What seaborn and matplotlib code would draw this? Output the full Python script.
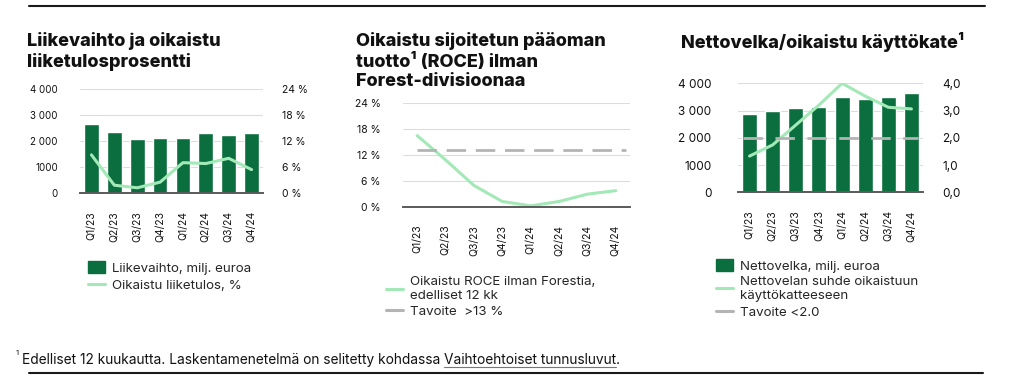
import matplotlib
matplotlib.use("Agg")
import matplotlib.pyplot as plt
import seaborn as sns
import numpy as np
from matplotlib.patches import Patch
from matplotlib.lines import Line2D

quarters = ["Q1/23", "Q2/23", "Q3/23", "Q4/23", "Q1/24", "Q2/24", "Q3/24", "Q4/24"]

# chart 1
liikevaihto = [2660, 2340, 2070, 2130, 2130, 2290, 2240, 2290]
liiketulos_pct = [8.8, 1.8, 1.2, 2.5, 7.0, 6.8, 8.0, 5.4]

# chart 2
roce_pct = [16.4, 10.8, 4.9, 1.2, 0.2, 1.2, 2.9, 3.7]
roce_target = 13.0

# chart 3
nettovelka = [2860, 2990, 3080, 3130, 3490, 3440, 3490, 3650]
velka_suhde = [1.33, 1.74, 2.47, 3.20, 4.00, 3.53, 3.12, 3.06]
velka_target = 2.0

DARK = "#0b6e3f"
LIGHT = "#a3e9b7"
GRAY = "#b4b4b4"
TEXT = "#111111"

sns.set_style("white")
plt.rcParams["font.family"] = ["Inter", "DejaVu Sans"]

W, H = 1016, 382
fig = plt.figure(figsize=(W / 100, H / 100), dpi=100)


def axes_px(left, top, right, bottom):
    return fig.add_axes([left / W, 1 - bottom / H, (right - left) / W, (bottom - top) / H])


def style_axes(ax, ymax, yticks, ylabels, pad, size):
    ax.set_ylim(0, ymax)
    ax.set_xlim(-0.5, len(quarters) - 0.5)
    ax.set_yticks(yticks)
    ax.set_yticklabels(ylabels)
    ax.set_xticks(np.arange(len(quarters)))
    ax.set_xticklabels(quarters, rotation=90)
    for s in ["top", "left", "right"]:
        ax.spines[s].set_visible(False)
    ax.spines["bottom"].set_color("#5a5a5a")
    ax.spines["bottom"].set_linewidth(1.4)
    ax.spines["bottom"].set_zorder(5)
    ax.grid(axis="y", color="#dcdcdc", linewidth=0.8)
    ax.set_axisbelow(True)
    ax.tick_params(axis="y", length=0, pad=pad, labelsize=size, labelcolor=TEXT)
    ax.tick_params(axis="x", length=0, pad=13, labelsize=7.5, labelcolor=TEXT)
    ax.set_xlabel("")
    ax.set_ylabel("")


def title(x, y, s):
    fig.text(x / W, 1 - y / H, s, fontsize=13, fontweight="heavy", color=TEXT,
             va="top", ha="left", linespacing=1.18)


LEG = dict(loc="upper left", frameon=False, fontsize=9.6, handlelength=1.3,
           handletextpad=0.5, labelspacing=0.28, borderpad=0, borderaxespad=0)

# ---- chart 1
ax1 = axes_px(80, 89, 263, 193)
sns.barplot(x=np.arange(len(quarters)), y=liikevaihto, color=DARK, saturation=1,
            width=0.65, ax=ax1)
style_axes(ax1, 4000, [0, 1000, 2000, 3000, 4000],
           ["0", "1000", "2 000", "3 000", "4 000"], 16, 7)
ax1b = ax1.twinx()
sns.lineplot(x=np.arange(len(quarters)), y=liiketulos_pct, color=LIGHT, linewidth=2.2, ax=ax1b)
ax1b.set_ylim(0, 24)
ax1b.set_yticks([0, 6, 12, 18, 24])
ax1b.set_yticklabels(["0 %", "6 %", "12 %", "18 %", "24 %"])
ax1b.tick_params(axis="y", length=0, pad=14, labelsize=7.5, labelcolor=TEXT)
for s in ax1b.spines.values():
    s.set_visible(False)
ax1b.set_ylabel("")
title(27, 32, "Liikevaihto ja oikaistu\nliiketulosprosentti")
fig.legend(handles=[Patch(color=DARK, label="Liikevaihto, milj. euroa"),
                    Line2D([], [], color=LIGHT, lw=2.2, label="Oikaistu liiketulos, %")],
           bbox_to_anchor=(88 / W, 1 - 261 / H), handleheight=1.0, **LEG)

# ---- chart 2
ax2 = axes_px(403, 102.7, 630, 206.7)
sns.lineplot(x=np.arange(len(quarters)), y=roce_pct, color=LIGHT, linewidth=2.2, ax=ax2)
ax2.hlines(roce_target, 0, 7.35, color=GRAY, linewidth=2.0, linestyles=(0, (7, 3.5)))
style_axes(ax2, 24, [0, 6, 12, 18, 24], ["0 %", "6 %", "12 %", "18 %", "24 %"], 16, 7.5)
title(356, 32, "Oikaistu sijoitetun pääoman\ntuotto¹ (ROCE) ilman\nForest-divisioonaa")
fig.legend(handles=[Line2D([], [], color=LIGHT, lw=2.2,
                           label="Oikaistu ROCE ilman Forestia,\nedelliset 12 kk"),
                    Line2D([], [], color=GRAY, lw=2.2, label="Tavoite  >13 %")],
           bbox_to_anchor=(386 / W, 1 - 276 / H), **LEG)

# ---- chart 3
ax3 = axes_px(738, 83.3, 923, 192.3)
sns.barplot(x=np.arange(len(quarters)), y=nettovelka, color=DARK, saturation=1,
            width=0.65, ax=ax3)
style_axes(ax3, 4000, [0, 1000, 2000, 3000, 4000],
           ["0", "1000", "2 000", "3 000", "4 000"], 19, 8.5)
ax3b = ax3.twinx()
sns.lineplot(x=np.arange(len(quarters)), y=velka_suhde, color=LIGHT, linewidth=2.2, ax=ax3b)
ax3b.hlines(velka_target, -0.3, 7.3, color=GRAY, linewidth=2.0, linestyles=(0, (7, 4.5)))
ax3b.set_ylim(0, 4)
ax3b.set_yticks([0, 1, 2, 3, 4])
ax3b.set_yticklabels(["0,0", "1,0", "2,0", "3,0", "4,0"])
ax3b.tick_params(axis="y", length=0, pad=14, labelsize=8.5, labelcolor=TEXT)
for s in ax3b.spines.values():
    s.set_visible(False)
ax3b.set_ylabel("")
title(681, 32, "Nettovelka/oikaistu käyttökate¹")
fig.legend(handles=[Patch(color=DARK, label="Nettovelka, milj. euroa"),
                    Line2D([], [], color=LIGHT, lw=2.2,
                           label="Nettovelan suhde oikaistuun\nkäyttökatteeseen"),
                    Line2D([], [], color=GRAY, lw=2.2, label="Tavoite <2.0")],
           bbox_to_anchor=(716 / W, 1 - 259 / H), handleheight=1.0, **LEG)

# ---- frame lines and footnote
fig.add_artist(Line2D([29 / W, 985 / W], [1 - 6 / H, 1 - 6 / H], color="#1a1a1a", lw=1.5))
fig.add_artist(Line2D([29 / W, 983 / W], [1 - 373 / H, 1 - 373 / H], color="#1a1a1a", lw=1.5))

fig.text(16 / W, 1 - 350 / H, "1", fontsize=5.5, color=TEXT, va="top")
t1 = fig.text(22 / W, 1 - 364 / H,
              "Edelliset 12 kuukautta. Laskentamenetelmä on selitetty kohdassa ",
              fontsize=9.9, color=TEXT, va="baseline")
renderer = fig.canvas.get_renderer()
bb = t1.get_window_extent(renderer)
t2 = fig.text(bb.x1 / W, 1 - 364 / H, "Vaihtoehtoiset tunnusluvut",
              fontsize=9.9, color=TEXT, va="baseline")
bb2 = t2.get_window_extent(renderer)
fig.add_artist(Line2D([bb2.x0 / W, bb2.x1 / W], [1 - 366.5 / H, 1 - 366.5 / H],
                      color="#777777", lw=0.8))
fig.text(bb2.x1 / W, 1 - 364 / H, ".", fontsize=9.9, color=TEXT, va="baseline")

fig.savefig("out.png", dpi=100)
